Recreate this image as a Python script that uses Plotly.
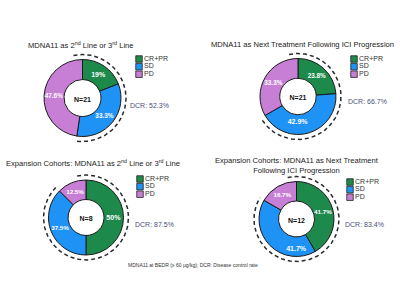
import numpy as np
import plotly.graph_objects as go

# ---------------- data ----------------
categories = ["CR+PR", "SD", "PD"]
pie1_values = [19.0, 33.3, 47.6]
pie2_values = [23.8, 42.9, 33.3]
pie3_values = [50.0, 37.5, 12.5]
pie4_values = [41.7, 41.7, 16.7]
n_patients = [21, 21, 8, 12]
dcr_values = [52.3, 66.7, 87.5, 83.4]
titles = [
    "MDNA11 as 2<sup>nd</sup> Line or 3<sup>rd</sup> Line",
    "MDNA11 as Next Treatment Following ICI Progression",
    "Expansion Cohorts: MDNA11 as 2<sup>nd</sup> Line or 3<sup>rd</sup> Line",
    "Expansion Cohorts: MDNA11 as Next Treatment<br>Following ICI Progression",
]
footnote = "MDNA11 at BEDR (\u2265 60 \u00b5g/kg); DCR: Disease control rate"

# ---------------- style / layout ----------------
W, H = 400, 300
FONT = "Liberation Sans, Arial, sans-serif"
colors = ["#1d8a4b", "#1f93f5", "#c77fd6"]
# pie centers (px) and outer radii
centers = [(82.5, 98.0), (298.0, 96.5), (86.0, 217.5), (296.5, 219.0)]
radii = [38.5, 38.0, 37.5, 37.5]
title_pos = [(81, 45), (302, 44), (93, 163), (297, 165)]
legend_pos = [(139, 59), (354, 59), (140, 179), (350, 182)]
legend_step = 7.6
dcr_pos = [(128, 105), (346, 101), (133, 224), (343, 224)]
arc_gap = 5.0
arc_start = -12.0

all_values = [pie1_values, pie2_values, pie3_values, pie4_values]

fig = go.Figure()

for i, vals in enumerate(all_values):
    cx, cy = centers[i]
    r = radii[i]
    fig.add_trace(go.Pie(
        labels=categories,
        values=vals,
        text=[f"{v:g}%" for v in vals],
        textinfo="text",
        textposition="inside",
        insidetextorientation="horizontal",
        textfont=dict(family=FONT, size=7, color="white", weight="bold"),
        hole=0.48,
        sort=False,
        direction="clockwise",
        rotation=0,
        marker=dict(colors=colors, line=dict(color="#1a1a1a", width=1)),
        domain=dict(x=[(cx - r) / W, (cx + r) / W],
                    y=[1 - (cy + r) / H, 1 - (cy - r) / H]),
        title=dict(text=f"<b>N={n_patients[i]}</b>", position="middle center",
                   font=dict(family=FONT, size=7, color="#111")),
        showlegend=False,
        hoverinfo="label+text",
    ))

    # dashed DCR arc derived from the DCR value
    R = r + arc_gap
    theta = np.deg2rad(np.linspace(arc_start, dcr_values[i] * 3.6, 200))
    fig.add_trace(go.Scatter(
        x=cx + R * np.sin(theta), y=cy - R * np.cos(theta),
        mode="lines", line=dict(color="#2a2a2a", width=1.5, dash="4px,3px"),
        showlegend=False, hoverinfo="skip",
    ))

    # compact legend
    lx, ly = legend_pos[i]
    fig.add_trace(go.Scatter(
        x=[lx] * len(categories),
        y=[ly + k * legend_step for k in range(len(categories))],
        mode="markers+text",
        marker=dict(symbol="square", size=6.5, color=colors,
                    line=dict(color="#222", width=0.8)),
        text=categories, textposition="middle right",
        textfont=dict(family=FONT, size=7, color="#333"),
        showlegend=False, hoverinfo="skip",
    ))

    tx, ty = title_pos[i]
    fig.add_annotation(x=tx, y=ty, xref="x", yref="y", text=titles[i],
                       showarrow=False, xanchor="center", yanchor="middle",
                       font=dict(family=FONT, size=7.6, color="#222"))
    dx, dy = dcr_pos[i]
    fig.add_annotation(x=dx, y=dy, xref="x", yref="y",
                       text=f"DCR: {dcr_values[i]}%",
                       showarrow=False, xanchor="left", yanchor="middle",
                       font=dict(family=FONT, size=7, color="#4a5078"))

fig.add_annotation(x=193, y=265, xref="x", yref="y", text=footnote,
                   showarrow=False, xanchor="center", yanchor="middle",
                   font=dict(family=FONT, size=5, color="#333"))

fig.update_layout(
    width=W, height=H,
    margin=dict(l=0, r=0, t=0, b=0),
    paper_bgcolor="white", plot_bgcolor="white",
    xaxis=dict(range=[0, W], domain=[0, 1], visible=False, fixedrange=True),
    yaxis=dict(range=[H, 0], domain=[0, 1], visible=False, fixedrange=True),
    showlegend=False,
)

fig.write_html("out.html")
